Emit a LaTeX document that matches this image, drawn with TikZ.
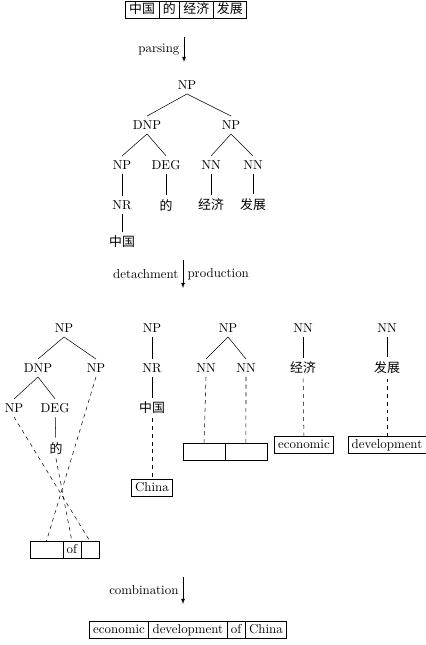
\documentclass[tikz,border=0pt]{standalone}
\usepackage{fontspec}
\newfontfamily\cjk{Noto Sans CJK SC}
\usepackage{tikz}
\usetikzlibrary{matrix, positioning}

\tikzset{
	box/.style={draw, inner xsep=3pt, inner ysep=2pt, text height=7pt, text depth=2pt},
	boxrow/.style={matrix of nodes, nodes in empty cells, column sep=-\pgflinewidth, nodes={box}},
	link/.style={dashed},
	stagearrow/.style={-latex}
}

\begin{document}
\begin{tikzpicture}[x=0.775pt, y=-0.775pt]%, every node/.style={draw=black!30}]
	\useasboundingbox (0,0) rectangle (426,645);

	% source sentence
	\matrix (src)[boxrow, nodes={font=\cjk}] at (186,10)
	{
		中国 & 的 & 经济 & 发展 \\
	};

	\coordinate (p1) at (184,37);
	\coordinate (p2) at (184,62);
	\draw[stagearrow] (p1) -- node[left] {parsing} (p2);

	% parse tree
	\node (t) at (187,85) {NP};
	\node (td) at (147,125) {DNP};
	\node (tn) at (231,125) {NP};
	\node (tnp) at (122,165) {NP};
	\node (tdeg) at (166,165) {DEG};
	\node (tnn1) at (211,165) {NN};
	\node (tnn2) at (253,165) {NN};
	\node (tnr) at (122,205) {NR};
	\node (tde) at (166,205) {\cjk 的};
	\node (tjj) at (211,205) {\cjk 经济};
	\node (tfz) at (253,205) {\cjk 发展};
	\node (tzg) at (122,242) {\cjk 中国};
	\draw (t.south) -- (td.north);
	\draw (t.south) -- (tn.north);
	\draw (td.south) -- (tnp.north);
	\draw (td.south) -- (tdeg.north);
	\draw (tn.south) -- (tnn1.north);
	\draw (tn.south) -- (tnn2.north);
	\draw (tnp) -- (tnr);
	\draw (tdeg) -- (tde);
	\draw (tnn1) -- (tjj);
	\draw (tnn2) -- (tfz);
	\draw (tnr) -- (tzg);

	\coordinate (q1) at (183,260);
	\coordinate (q2) at (183,288);
	\draw[stagearrow] (q1) -- node[left] {detachment} node[right] {production} (q2);

	% rule 1
	\node (a) at (64,328) {NP};
	\node (ad) at (38,368) {DNP};
	\node (an) at (96,368) {NP};
	\node (anp) at (14,408) {NP};
	\node (adeg) at (55,408) {DEG};
	\node (ade) at (56,448) {\cjk 的};
	\matrix (ab)[boxrow] at (64.5,550)
	{
		|[minimum width=25.5pt]| & of & |[minimum width=14pt]| \\
	};
	\draw (a.south) -- (ad.north);
	\draw (a.south) -- (an.north);
	\draw (ad.south) -- (anp.north);
	\draw (ad.south) -- (adeg.north);
	\draw (adeg) -- (ade);
	\draw[link] (anp.south) -- (ab-1-3.north);
	\draw[link] (ade.south) -- (ab-1-2.north);
	\draw[link] (an.south) -- (ab-1-1.north);

	% rule 2
	\node (b) at (152,328) {NP};
	\node (bnr) at (152,368) {NR};
	\node (bzg) at (152,408) {\cjk 中国};
	\node[box] (bchina) at (152,488) {China};
	\draw (b) -- (bnr);
	\draw (bnr) -- (bzg);
	\draw[link] (bzg) -- (bchina);

	% rule 3
	\node (c) at (228,328) {NP};
	\node (cn1) at (206,368) {NN};
	\node (cn2) at (246,368) {NN};
	\matrix (cb)[boxrow] at (225,452)
	{
		|[minimum width=32.5pt]| & |[minimum width=32.5pt]| \\
	};
	\draw (c.south) -- (cn1.north);
	\draw (c.south) -- (cn2.north);
	\draw[link] (cn1.south) -- (cb-1-1.north);
	\draw[link] (cn2.south) -- (cb-1-2.north);

	% rule 4
	\node (d) at (303,328) {NN};
	\node (djj) at (303,368) {\cjk 经济};
	\node[box] (decon) at (304,445) {economic};
	\draw (d) -- (djj);
	\draw[link] (djj) -- (decon);

	% rule 5
	\node (e) at (387,328) {NN};
	\node (efz) at (387,368) {\cjk 发展};
	\node[box] (edev) at (387,445) {development};
	\draw (e) -- (efz);
	\draw[link] (efz) -- (edev);

	\coordinate (r1) at (183,577);
	\coordinate (r2) at (183,604);
	\draw[stagearrow] (r1) -- node[left] {combination} (r2);

	% translation
	\matrix (out)[boxrow] at (188,630)
	{
		economic & development & of & China \\
	};
\end{tikzpicture}
\end{document}
